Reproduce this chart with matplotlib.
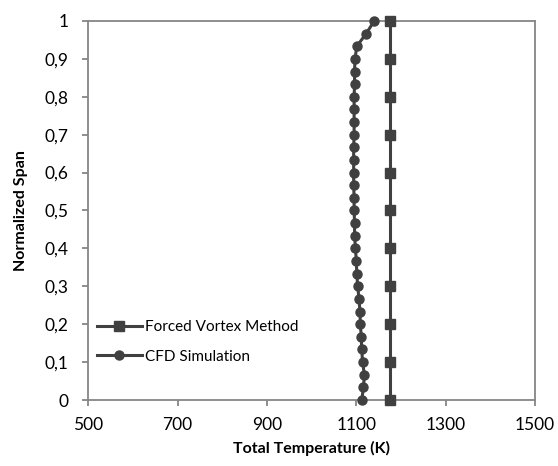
import numpy as np
import matplotlib.pyplot as plt
from matplotlib.ticker import FuncFormatter

plt.rcParams['font.family'] = ['Lato', 'DejaVu Sans']

# forced vortex method: constant total temperature
span_fv = [0.0, 0.1, 0.2, 0.3, 0.4, 0.5, 0.6, 0.7, 0.8, 0.9, 1.0]
temp_fv = [1175] * 11

# CFD simulation, 31 stations over the span
span_cfd = [k / 30 for k in range(31)]
temp_cfd = [1112, 1116, 1118, 1114, 1112, 1111, 1109, 1108, 1106, 1103,
            1101, 1100, 1098, 1096, 1096, 1095, 1095, 1094, 1094, 1094,
            1094, 1095, 1095, 1095, 1095, 1096, 1096, 1097, 1101, 1122, 1140]

col = '#404040'
gray = '#868686'

fig = plt.figure(figsize=(5.58, 4.66), dpi=100)
ax = fig.add_axes([0.158, 0.1416, 0.801, 0.8134])

ax.plot(temp_fv, span_fv, color=col, lw=2.2, marker='s', ms=6.5,
        label='Forced Vortex Method', clip_on=False, zorder=3)
ax.plot(temp_cfd, span_cfd, color=col, lw=2.2, marker='o', ms=6.5,
        label='CFD Simulation', clip_on=False, zorder=3)

ax.set_xlim(500, 1500)
ax.set_ylim(0, 1)
ax.set_xticks([500, 700, 900, 1100, 1300, 1500])
ax.set_yticks(np.round(np.arange(0, 1.01, 0.1), 1))
ax.yaxis.set_major_formatter(FuncFormatter(lambda v, p: ('%g' % v).replace('.', ',')))

for s in ax.spines.values():
    s.set_color(gray)
    s.set_linewidth(1.3)
ax.tick_params(direction='out', length=4.3, width=1.3, color=gray,
               labelsize=12.5, labelcolor='black')
ax.tick_params(axis='y', pad=10)
ax.tick_params(axis='x', pad=8)

ax.set_xlabel('Total Temperature (K)', fontsize=11.5, fontweight='bold')
ax.set_ylabel('Normalized Span', fontsize=11.5, fontweight='bold')
ax.xaxis.set_label_coords(0.5, -0.109)
ax.yaxis.set_label_coords(-0.135, 0.5)

leg = ax.legend(loc='lower left', bbox_to_anchor=(-0.012, 0.06), frameon=False,
                fontsize=11, handlelength=3.0, handletextpad=0.15,
                labelspacing=1.0)

fig.savefig('out.png', dpi=100)
